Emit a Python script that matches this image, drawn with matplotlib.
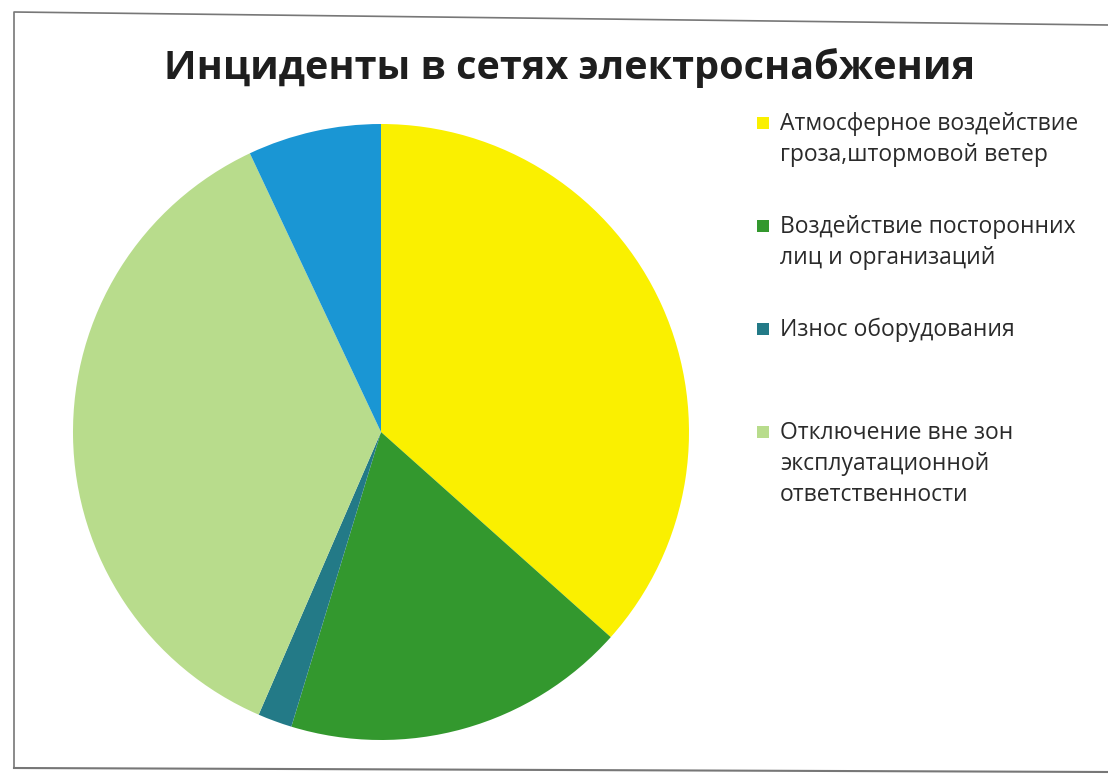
import matplotlib
matplotlib.use("Agg")
import matplotlib.pyplot as plt
from matplotlib.patches import Rectangle
from matplotlib.lines import Line2D

W, H = 1108, 775

title = "Инциденты в сетях электроснабжения"
labels = [
    "Атмосферное воздействие\nгроза,штормовой ветер",
    "Воздействие посторонних\nлиц и организаций",
    "Износ оборудования",
    "Отключение вне зон\nэксплуатационной\nответственности",
    "",
]
shares = [36.6, 18.1, 1.8, 36.5, 7.0]
colors = ["#FAF000", "#33982E", "#237A87", "#B8DC8C", "#1A96D4"]

plt.rcParams['font.family'] = ['Open Sans', 'DejaVu Sans']

fig = plt.figure(figsize=(W / 100, H / 100), dpi=100)
fig.patch.set_facecolor("white")

# pie area (pixel box -> figure fraction)
cx, cy, r = 381, 432, 308
ax = fig.add_axes([(cx - r) / W, (H - cy - r) / H, 2 * r / W, 2 * r / H])
wedges, _ = ax.pie(shares, colors=colors, startangle=90, counterclock=False,
                   wedgeprops=dict(linewidth=0))
ax.set_xlim(-1, 1)
ax.set_ylim(-1, 1)
ax.set_aspect("equal")
ax.axis("off")

fig.text(570 / W, 1 - 68 / H, title, ha="center", va="center",
         fontsize=28.5, fontweight="bold", color="#1E1E1E")

# legend, entries at fixed pitch, marker at first line
y0 = 127
pitch = 103
for i, lab in enumerate(labels[:4]):
    y = y0 + i * pitch
    fig.patches.append(Rectangle(((763 - 6) / W, 1 - (y - 4 + 6) / H), 12 / W, 12 / H,
                                 transform=fig.transFigure, facecolor=colors[i],
                                 edgecolor="none"))
    fig.text(780 / W, 1 - (y - 15) / H, lab, ha="left", va="top",
             fontsize=16.5, color="#2A2A2A", linespacing=1.4)

# scanned page frame
fig.lines.append(Line2D([14 / W, 14 / W, 1.0], [1 - 768 / H, 1 - 12 / H, 1 - 25 / H],
                        transform=fig.transFigure, color="#777777", lw=1.2))
fig.lines.append(Line2D([14 / W, 1.0], [1 - 768 / H, 1 - 772 / H],
                        transform=fig.transFigure, color="#777777", lw=1.5))

fig.savefig("out.png", dpi=100)
